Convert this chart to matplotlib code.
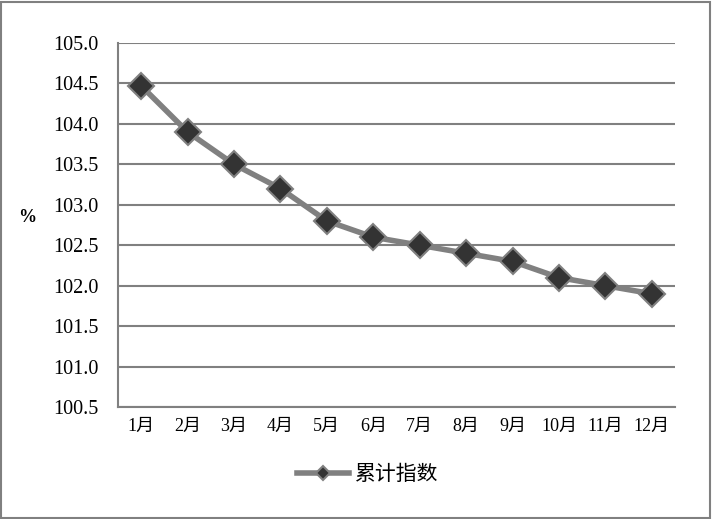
import matplotlib
matplotlib.use("Agg")
import matplotlib.pyplot as plt
from matplotlib.patches import Rectangle

months = ["1月", "2月", "3月", "4月", "5月", "6月", "7月", "8月", "9月", "10月", "11月", "12月"]
values = [104.47, 103.9, 103.5, 103.2, 102.8, 102.6, 102.5, 102.4, 102.3, 102.1, 102.0, 101.9]
yticks = [100.5, 101.0, 101.5, 102.0, 102.5, 103.0, 103.5, 104.0, 104.5, 105.0]
series_name = "累计指数"

plt.rcParams['font.family'] = ['Liberation Serif', 'Noto Sans CJK SC', 'DejaVu Sans']

fig = plt.figure(figsize=(7.12, 5.19), dpi=100)
ax = fig.add_axes([118/712, 1-407/519, (675-118)/712, (407-43)/519])

x = list(range(len(months)))
ax.plot(x, values, color="#808080", linewidth=4, marker="D", markersize=13,
        markerfacecolor="#333333", markeredgecolor="#808080", markeredgewidth=1.5,
        label=series_name, zorder=3, clip_on=False)

ax.set_xlim(-0.5, len(months) - 0.5)
ax.set_ylim(100.5, 105.0)
ax.set_yticks(yticks)
ax.set_yticklabels([f"{v:.1f}" for v in yticks])
ax.set_xticks(x)
ax.set_xticklabels(months)
ax.tick_params(axis="both", length=0, pad=8)
ax.tick_params(axis="x", labelsize=13)
ax.tick_params(axis="y", labelsize=14.5, pad=14)
ax.grid(axis="y", color="#808080", linewidth=1.5)
ax.set_axisbelow(True)
for s in ["top", "right"]:
    ax.spines[s].set_visible(False)
for s in ["left", "bottom"]:
    ax.spines[s].set_color("#808080")
    ax.spines[s].set_linewidth(1.5)

fig.text(27/712, 1-218/519, "%", fontsize=13, fontweight="bold", ha="center", va="center")

leg = ax.legend(loc="center", frameon=False,
                fontsize=15, handlelength=2.5, markerscale=0.55, handletextpad=0.3)
leg.set_bbox_to_anchor((368/712, 1-475/519), transform=fig.transFigure)

fig.patches.append(Rectangle((1/712, 1/519), 709/712, 516/519, transform=fig.transFigure,
                             fill=False, edgecolor="#808080", linewidth=1.5))

fig.savefig("out.png", dpi=100)
